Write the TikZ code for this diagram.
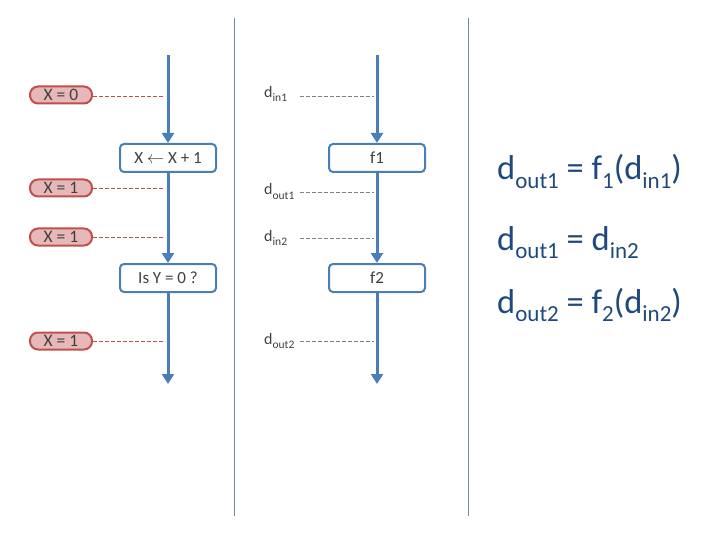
\documentclass[tikz,border=0pt]{standalone}
\usepackage{fontspec}
\setmainfont{Carlito}
\usetikzlibrary{arrows.meta}

\definecolor{flowblue}{RGB}{74,126,187}
\definecolor{pillred}{RGB}{192,80,77}
\definecolor{pillfill}{RGB}{230,184,183}
\definecolor{eqblue}{RGB}{31,73,125}
\definecolor{sepgray}{RGB}{110,140,165}
\definecolor{txtgray}{RGB}{64,64,64}

% lowered subscript: size, drop, text
\newcommand{\sbs}[3]{\raisebox{-#2}{\fontsize{#1}{#1}\selectfont #3}}

\begin{document}
\begin{tikzpicture}[x=1pt,y=-1pt,
  flow/.style={flowblue, line width=3pt, -{Triangle[width=12pt,length=10pt]}},
  procbox/.style={draw=flowblue, line width=2pt, rounded corners=4pt, fill=white,
    minimum width=96pt, minimum height=28pt, text=txtgray, font=\fontsize{17}{19}\selectfont},
  valpill/.style={draw=pillred, line width=2pt, fill=pillfill, rounded corners=8pt,
    minimum width=62pt, minimum height=17pt, inner sep=0pt, text=txtgray,
    font=\fontsize{17.5}{19}\selectfont},
  datalbl/.style={anchor=base west, text width=36pt, inner sep=0pt, align=left,
    text=txtgray, font=\fontsize{16}{18}\selectfont},
  pilltie/.style={pillred, dash pattern=on 4pt off 2pt, line width=0.6pt},
  datatie/.style={gray, dash pattern=on 4pt off 2pt, line width=0.6pt},
  eqn/.style={anchor=base west, inner sep=0pt, text=eqblue, font=\fontsize{34.5}{38}\selectfont}]

\useasboundingbox (0,0) rectangle (720,540);

% separators
\draw[sepgray, line width=0.8pt] (234,18) -- (234,516);
\draw[sepgray, line width=0.8pt] (468,18) -- (468,516);

% left flow (program)
\coordinate (ltop) at (168,55);
\coordinate (lend) at (168,384);
\node[procbox] (incx) at (168,158) {X $\leftarrow$ X + 1};
\node[procbox] (testy) at (168,278) {Is Y = 0 ?};
\draw[flow] (ltop) -- (incx.north);
\draw[flow] (incx.south) -- (testy.north);
\draw[flow] (testy.south) -- (lend);

% values of X
\node[valpill] (xa) at (61,95) {X = 0};
\node[valpill] (xb) at (61,188) {X = 1};
\node[valpill] (xc) at (61,237) {X = 1};
\node[valpill] (xd) at (61,341) {X = 1};
\coordinate (xat) at (165,96);
\coordinate (xbt) at (165,188);
\coordinate (xct) at (165,237);
\coordinate (xdt) at (165,341);
\draw[pilltie] (xa.east |- xat) -- (xat);
\draw[pilltie] (xb.east) -- (xbt);
\draw[pilltie] (xc.east) -- (xct);
\draw[pilltie] (xd.east) -- (xdt);

% right flow (functions)
\coordinate (rtop) at (377,55);
\coordinate (rend) at (377,384);
\node[procbox] (fone) at (377,158) {f1};
\node[procbox] (ftwo) at (377,278) {f2};
\draw[flow] (rtop) -- (fone.north);
\draw[flow] (fone.south) -- (ftwo.north);
\draw[flow] (ftwo.south) -- (rend);

% data labels
\node[datalbl] (din1) at (264,97.5) {d\sbs{11.5pt}{4.5pt}{in1}};
\node[datalbl] (dout1) at (264,195) {d\sbs{11.5pt}{4.5pt}{out1}};
\node[datalbl] (din2) at (264,241) {d\sbs{11.5pt}{4.5pt}{in2}};
\node[datalbl] (dout2) at (264,344) {d\sbs{11.5pt}{4.5pt}{out2}};
\coordinate (din1t) at (374,96.5);
\coordinate (dout1t) at (374,192.5);
\coordinate (din2t) at (374,238.5);
\coordinate (dout2t) at (374,341.5);
\draw[datatie] (din1.base east |- din1t) -- (din1t);
\draw[datatie] (dout1.base east |- dout1t) -- (dout1t);
\draw[datatie] (din2.base east |- din2t) -- (din2t);
\draw[datatie] (dout2.base east |- dout2t) -- (dout2t);

% equations
\node[eqn] (eqa) at (497,180) {d\sbs{23pt}{8.5pt}{out1} = f\sbs{23pt}{8.5pt}{1}(d\sbs{23pt}{8.5pt}{in1})};
\node[eqn] (eqb) at (497,250) {d\sbs{23pt}{8.5pt}{out1} = d\sbs{23pt}{8.5pt}{in2}};
\node[eqn] (eqc) at (497,313) {d\sbs{23pt}{8.5pt}{out2} = f\sbs{23pt}{8.5pt}{2}(d\sbs{23pt}{8.5pt}{in2})};

\end{tikzpicture}
\end{document}
